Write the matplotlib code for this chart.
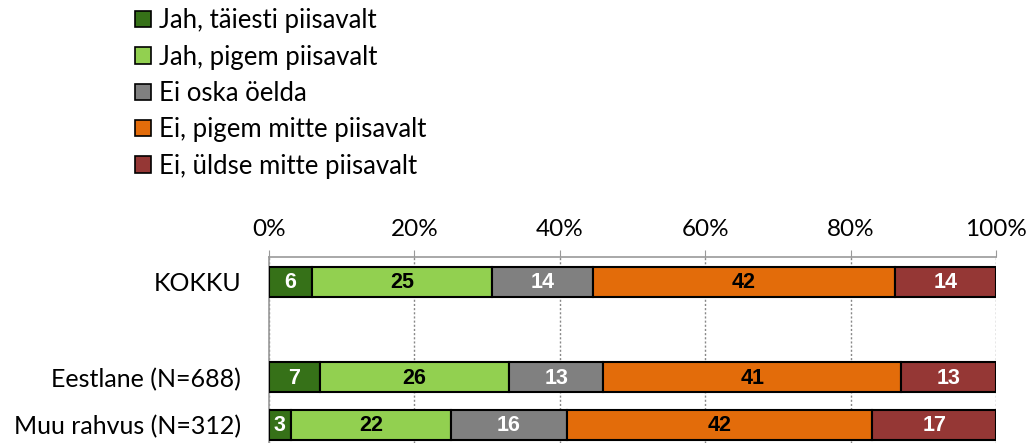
import matplotlib
matplotlib.use('Agg')
import matplotlib.pyplot as plt
import numpy as np
from matplotlib.patches import Patch

# data
groups = ['KOKKU', '', 'Eestlane (N=688)', 'Muu rahvus (N=312)']
answers = ['Jah, täiesti piisavalt', 'Jah, pigem piisavalt', 'Ei oska öelda',
           'Ei, pigem mitte piisavalt', 'Ei, üldse mitte piisavalt']
kokku = [6, 25, 14, 42, 14]
eestlane = [7, 26, 13, 41, 13]
muu = [3, 22, 16, 42, 17]
tick_labels = ['0%', '20%', '40%', '60%', '80%', '100%']

colors = ['#367118', '#92D050', '#808080', '#E36C0A', '#953735']
text_colors = ['white', 'black', 'white', 'black', 'white']

plt.rcParams['font.family'] = ['Lato', 'DejaVu Sans']

fig = plt.figure(figsize=(10.29, 4.43), dpi=100)
ax = fig.add_axes([269 / 1029, 0.0, 727 / 1029, 1 - 257 / 443])

rows = {0: kokku, 2: eestlane, 3: muu}
for pos, vals in rows.items():
    vals = np.array(vals, dtype=float)
    shares = vals / vals.sum() * 100
    left = 0
    for j, (v, s) in enumerate(zip(vals, shares)):
        ax.barh(pos, s, left=left, height=0.62, color=colors[j],
                edgecolor='black', linewidth=1.5, zorder=3)
        ax.text(left + s / 2, pos + 0.02, '%d' % v, ha='center', va='center',
                color=text_colors[j], fontsize=15.5, fontweight='bold',
                family='Liberation Sans', zorder=4)
        left += s

ax.set_xlim(0, 100)
ax.set_ylim(3.38, -0.52)
ax.set_xticks([0, 20, 40, 60, 80, 100])
ax.set_xticklabels(tick_labels, fontsize=17.5)
ax.xaxis.tick_top()
ax.tick_params(axis='x', direction='out', length=5, color='#999999', pad=7)
ax.set_yticks([0, 1, 2, 3])
ax.set_yticklabels(groups, fontsize=18)
ax.tick_params(axis='y', length=0, pad=20)
ax.xaxis.grid(True, linestyle=(0, (1.5, 1.5)), color='#888888', linewidth=1, zorder=0)
for side in ['right', 'bottom']:
    ax.spines[side].set_visible(False)
for side in ['top', 'left']:
    ax.spines[side].set_color('#999999')
    ax.spines[side].set_linewidth(1.2)

handles = [Patch(facecolor=c, edgecolor='black', linewidth=1.2) for c in colors]
fig.legend(handles, answers, loc='upper left', bbox_to_anchor=(120 / 1029, 1.016),
           frameon=False, fontsize=18.5, handlelength=0.6, handleheight=0.6,
           handletextpad=0.3, labelspacing=0.44, borderaxespad=0.2)

fig.savefig('out.png', dpi=100)
